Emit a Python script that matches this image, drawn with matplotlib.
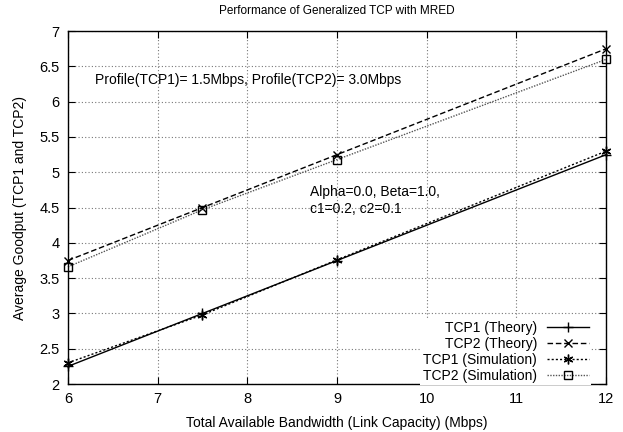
import matplotlib
matplotlib.use("Agg")
import matplotlib.pyplot as plt

plt.rcParams['font.family'] = ['Liberation Sans', 'DejaVu Sans']

bandwidth = [6, 7.5, 9, 12]
tcp1_theory = [2.25, 3.0, 3.75, 5.25]
tcp2_theory = [3.75, 4.5, 5.25, 6.75]
tcp1_sim = [2.30, 2.98, 3.76, 5.30]
tcp2_sim = [3.66, 4.47, 5.18, 6.60]

fig = plt.figure(figsize=(6.23, 4.32), dpi=100)
ax = fig.add_axes([0.109, 0.111, 0.864, 0.817])

common = dict(lw=1.0, clip_on=False, zorder=3)
ax.plot(bandwidth, tcp1_theory, color='black', ls='-', marker='+', ms=7, mew=1.0,
        label='TCP1 (Theory)', **common)
ax.plot(bandwidth, tcp2_theory, color='black', ls=(0, (4, 2)), marker='x', ms=5.5, mew=1.0,
        label='TCP2 (Theory)', **common)
ax.plot(bandwidth, tcp1_sim, color='black', ls=(0, (1.5, 1.5)), marker=(6, 2, 0), ms=7, mew=1.0,
        label='TCP1 (Simulation)', **common)
ax.plot(bandwidth, tcp2_sim, color='#555555', ls=(0, (1, 1)), marker='s', ms=6, mew=1.0,
        mfc='none', mec='black', label='TCP2 (Simulation)', **common)

ax.set_xlim(6, 12)
ax.set_ylim(2, 7)
ax.set_xticks([6, 7, 8, 9, 10, 11, 12])
ax.set_yticks([2, 2.5, 3, 3.5, 4, 4.5, 5, 5.5, 6, 6.5, 7])
ax.set_yticklabels(['2', '2.5', '3', '3.5', '4', '4.5', '5', '5.5', '6', '6.5', '7'])
ax.grid(True, color='#777777', ls=(0, (1, 2)), lw=0.8)
ax.tick_params(direction='in', length=5, labelsize=10.5, top=True, right=True, pad=6)
for s in ax.spines.values():
    s.set_linewidth(1.0)
    s.set_zorder(4)

ax.set_xlabel('Total Available Bandwidth (Link Capacity) (Mbps)', fontsize=10, labelpad=7)
ax.set_ylabel('Average Goodput (TCP1 and TCP2)', fontsize=10, labelpad=9)
ax.set_title('Performance of Generalized TCP with MRED', fontsize=8.5, pad=12)

ax.text(6.30, 6.31, 'Profile(TCP1)= 1.5Mbps, Profile(TCP2)= 3.0Mbps', fontsize=10, va='center')
ax.text(8.70, 4.72, 'Alpha=0.0, Beta=1.0,', fontsize=10, va='center')
ax.text(8.70, 4.48, 'c1=0.2, c2=0.1', fontsize=10, va='center')

leg = ax.legend(loc='lower right', bbox_to_anchor=(0.975, -0.008), markerfirst=False,
                fontsize=10, frameon=True,
                framealpha=1, edgecolor='none', fancybox=False, borderpad=0.2,
                labelspacing=0.13, handlelength=3.0, handletextpad=0.7,
                borderaxespad=0.1)
for t in leg.get_texts():
    t.set_ha('right')
leg._legend_box.align = 'right'
leg.set_zorder(5)

fig.savefig('out.png', dpi=100)
